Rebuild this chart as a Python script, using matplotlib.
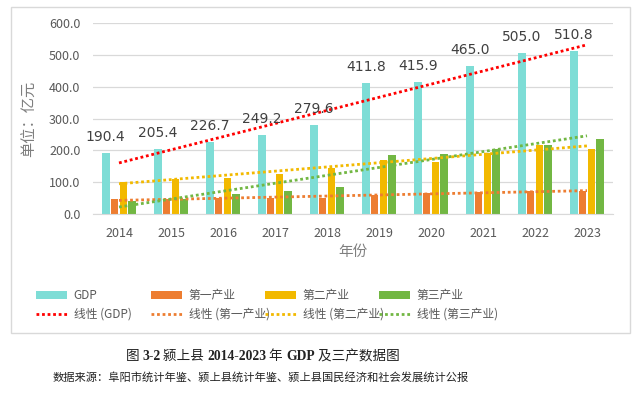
"""Yingshang county GDP and three industries, 2014-2023, with linear trend lines"""
import numpy as np
import matplotlib
matplotlib.use('Agg')
import matplotlib.pyplot as plt
from matplotlib.patches import Rectangle

plt.rcParams['font.family'] = ['Noto Sans CJK SC', 'DejaVu Sans']

# data
years = ['2014', '2015', '2016', '2017', '2018', '2019', '2020', '2021', '2022', '2023']
gdp = [190.4, 205.4, 226.7, 249.2, 279.6, 411.8, 415.9, 465.0, 505.0, 510.8]
primary = [47, 47, 50, 49, 50, 59, 65, 69, 72, 73]
secondary = [101, 111, 114, 127, 146, 170, 163, 192, 217, 203]
tertiary = [41, 47, 63, 72, 84, 185, 189, 204, 217, 236]

names = ['GDP', '第一产业', '第二产业', '第三产业']
values = [gdp, primary, secondary, tertiary]
bar_colors = ['#7EDDD6', '#ED7D31', '#F2B900', '#72B743']
trend_colors = ['#FF0000', '#ED7D31', '#F2B900', '#72B743']

W, H = 639, 396
fig = plt.figure(figsize=(W / 100, H / 100), dpi=100)

# outer chart frame
fig.patches.append(Rectangle((11 / W, 1 - 333 / H), 619 / W, 326 / H, transform=fig.transFigure,
                             fill=False, edgecolor='#D9D9D9', lw=1))

ax = fig.add_axes([93 / W, 1 - 214 / H, 520 / W, 191 / H])
x = np.arange(len(years))
step = 0.17
width = 0.148

bars = []
trends = []
for i, vals in enumerate(values):
    b = ax.bar(x + (i - 1.5) * step, vals, width, color=bar_colors[i], zorder=2)
    bars.append(b)
    # excel-style linear trend line
    k, c = np.polyfit(x, vals, 1)
    xt = np.array([x[0], x[-1]])
    ln, = ax.plot(xt, k * xt + c, color=trend_colors[i], lw=2, linestyle=(0, (1, 1)), zorder=3)
    trends.append(ln)

# GDP value labels
for xi, v in zip(x, gdp):
    ax.annotate(f'{v:.1f}', xy=(xi - 1.5 * step, v), xytext=(0, 11.5), textcoords='offset points',
                ha='center', va='center', fontsize=10, color='#404040', family=['DejaVu Sans'])

ax.set_ylim(0, 600)
ax.set_xlim(-0.5, len(years) - 0.5)
ax.set_yticks(range(0, 601, 100))
ax.set_yticklabels([f'{t:.1f}' for t in range(0, 601, 100)])
ax.set_xticks(x)
ax.set_xticklabels(years)
ax.tick_params(length=0, labelsize=9, colors='#595959', pad=9)
ax.grid(axis='y', color='#D9D9D9', lw=0.9, zorder=0)
for s in ['top', 'right', 'left']:
    ax.spines[s].set_visible(False)
ax.spines['bottom'].set_color('#D9D9D9')
ax.set_ylabel('单位：亿元', fontsize=11, color='#7F7F7F', labelpad=8)
ax.set_xlabel('年份', fontsize=10.5, color='#7F7F7F', labelpad=4)

# legend: one small two-row legend per series, like the excel layout
leg_x = [30, 145, 259, 373]
for i in range(4):
    lg = fig.legend([bars[i], trends[i]], [names[i], '线性 (' + names[i] + ')'],
                    loc='upper left', bbox_to_anchor=(leg_x[i] / W, 1 - 283 / H),
                    frameon=False, fontsize=8.5, handlelength=2.6, handleheight=0.7,
                    handletextpad=0.6, labelspacing=0.5, borderpad=0)
    for t in lg.get_texts():
        t.set_color('#595959')

# caption: chinese in regular, numbers in bold serif; pieces laid side by side
parts = [('图 ', 'normal'), ('3-2', 'bold'), (' 颍上县 ', 'normal'), ('2014-2023', 'bold'),
         (' 年 ', 'normal'), ('GDP', 'bold'), (' 及三产数据图', 'normal')]
cap_texts = []
for txt, wt in parts:
    if wt == 'bold':
        fam = ['Liberation Serif', 'Noto Sans CJK SC']
    else:
        fam = ['Noto Sans CJK SC', 'DejaVu Sans']
    cap_texts.append(fig.text(0, 1 - 360 / H, txt, fontsize=9.8, weight=wt, family=fam,
                              color='#222222', va='baseline'))

renderer = fig.canvas.get_renderer()
widths = [t.get_window_extent(renderer).width for t in cap_texts]
x0 = 262.5 - sum(widths) / 2
for t, w in zip(cap_texts, widths):
    t.set_x(x0 / W)
    x0 += w

fig.text(261 / W, 1 - 377 / H, '数据来源：阜阳市统计年鉴、颍上县统计年鉴、颍上县国民经济和社会发展统计公报',
         ha='center', va='center', fontsize=8.1, color='#222222')

fig.savefig('out.png', dpi=100)
